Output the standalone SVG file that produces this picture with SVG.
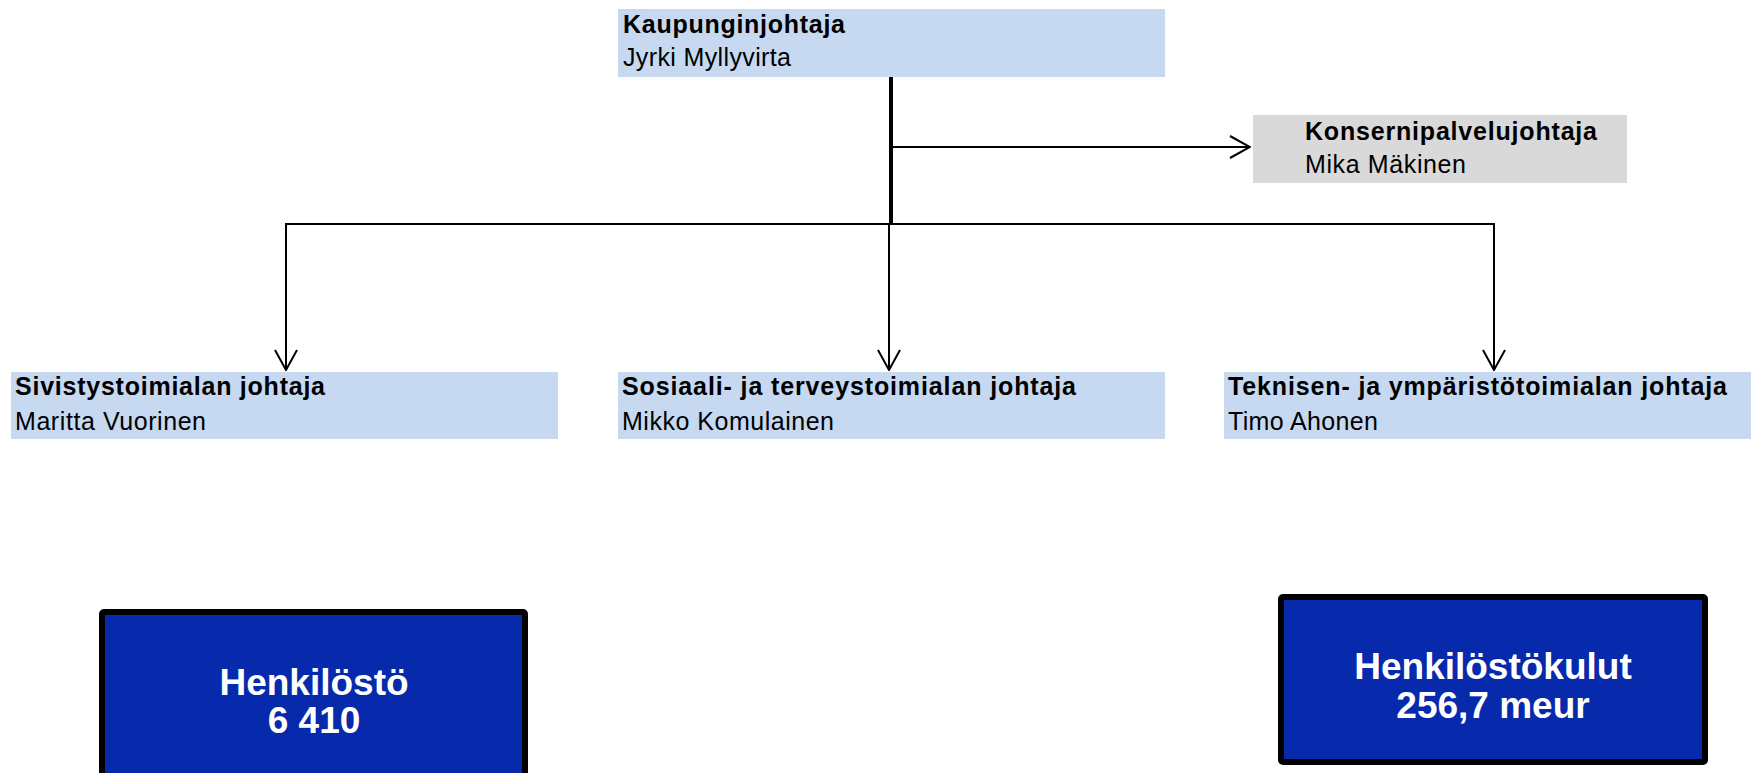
<svg xmlns="http://www.w3.org/2000/svg" width="1751" height="773" viewBox="0 0 1751 773">
<style>
.lb{fill:#c6d9f1}
.gr{fill:#d9d9d9}
.t{font-family:"Liberation Sans",Arial,sans-serif;font-size:25px;fill:#000}
.b{font-weight:bold}
.big{font-family:"Liberation Sans",Arial,sans-serif;font-size:37px;font-weight:bold;fill:#fff;text-anchor:middle}
.stat{fill:#062aab;stroke:#000;stroke-width:6}
.ln{fill:none;stroke:#000;stroke-width:2}
</style>
<defs>
<marker id="arr" viewBox="0 0 22 24" refX="21" refY="12" markerWidth="22" markerHeight="24" markerUnits="userSpaceOnUse" orient="auto">
<path d="M1,1 L21,12 L1,23" fill="none" stroke="#000" stroke-width="2"/>
</marker>
</defs>
<g id="connectors">
<line x1="891" y1="77" x2="891" y2="225" stroke="#000" stroke-width="4"/>
<line class="ln" x1="891" y1="147" x2="1250" y2="147" marker-end="url(#arr)"/>
<line class="ln" x1="285" y1="224" x2="1495" y2="224"/>
<line class="ln" x1="286" y1="223" x2="286" y2="370" marker-end="url(#arr)"/>
<line class="ln" x1="1494" y1="223" x2="1494" y2="370" marker-end="url(#arr)"/>
<line class="ln" x1="889" y1="224" x2="889" y2="370" marker-end="url(#arr)"/>
</g>
<g id="kaupunginjohtaja">
<rect class="lb" x="618" y="9" width="547" height="68"/>
<text class="t b" x="623" y="33" textLength="222" lengthAdjust="spacing">Kaupunginjohtaja</text>
<text class="t" x="623" y="66" textLength="168" lengthAdjust="spacing">Jyrki Myllyvirta</text>
</g>
<g id="konserni">
<rect class="gr" x="1253" y="115" width="374" height="68"/>
<text class="t b" x="1305" y="140" textLength="292" lengthAdjust="spacing">Konsernipalvelujohtaja</text>
<text class="t" x="1305" y="173" textLength="161" lengthAdjust="spacing">Mika Mäkinen</text>
</g>
<g id="sivistys">
<rect class="lb" x="11" y="372" width="547" height="67"/>
<text class="t b" x="15" y="395" textLength="310" lengthAdjust="spacing">Sivistystoimialan johtaja</text>
<text class="t" x="15" y="430" textLength="191" lengthAdjust="spacing">Maritta Vuorinen</text>
</g>
<g id="sosiaali">
<rect class="lb" x="618" y="372" width="547" height="67"/>
<text class="t b" x="622" y="395" textLength="454" lengthAdjust="spacing">Sosiaali- ja terveystoimialan johtaja</text>
<text class="t" x="622" y="430" textLength="212" lengthAdjust="spacing">Mikko Komulainen</text>
</g>
<g id="tekninen">
<rect class="lb" x="1224" y="372" width="527" height="67"/>
<text class="t b" x="1228" y="395" textLength="499" lengthAdjust="spacing">Teknisen- ja ympäristötoimialan johtaja</text>
<text class="t" x="1228" y="430" textLength="150" lengthAdjust="spacing">Timo Ahonen</text>
</g>
<g id="henkilosto">
<rect class="stat" x="102" y="612" width="423" height="180" rx="2"/>
<text class="big" x="314" y="695">Henkilöstö</text>
<text class="big" x="314" y="733">6 410</text>
</g>
<g id="henkilostokulut">
<rect class="stat" x="1281" y="597" width="424" height="165" rx="2"/>
<text class="big" x="1493" y="679">Henkilöstökulut</text>
<text class="big" x="1493" y="718">256,7 meur</text>
</g>
</svg>
